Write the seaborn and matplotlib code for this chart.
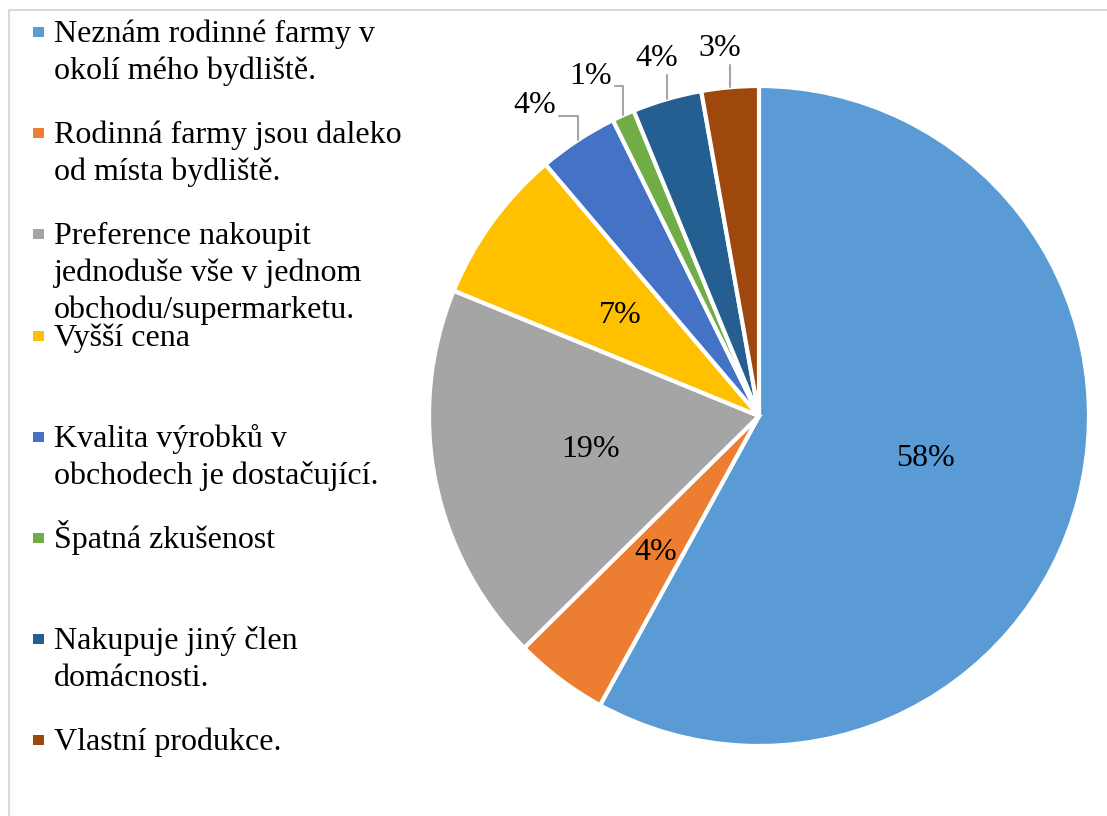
import numpy as np
import matplotlib
matplotlib.use("Agg")
import matplotlib.pyplot as plt
from matplotlib.patches import Rectangle
import seaborn as sns

categories = ["Neznám rodinné farmy v\nokolí mého bydliště.",
              "Rodinná farmy jsou daleko\nod místa bydliště.",
              "Preference nakoupit\njednoduše vše v jednom\nobchodu/supermarketu.",
              "Vyšší cena",
              "Kvalita výrobků v\nobchodech je dostačující.",
              "Špatná zkušenost",
              "Nakupuje jiný člen\ndomácnosti.",
              "Vlastní produkce."]
shares = [58.0, 4.6, 18.6, 7.6, 3.9, 1.1, 3.4, 2.8]
pct_labels = ["58%", "4%", "19%", "7%", "4%", "1%", "4%", "3%"]
colors = ["#5B9BD5", "#ED7D31", "#A5A5A5", "#FFC000",
          "#4472C4", "#70AD47", "#255E91", "#9E480E"]

sns.set_style("white")
plt.rcParams['font.family'] = ['Liberation Serif', 'DejaVu Serif']
plt.rcParams['text.color'] = 'black'

W, H = 1107, 816
fig = plt.figure(figsize=(W / 100, H / 100), dpi=100)

# light chart frame
fig.add_artist(Rectangle((9 / W, -0.1), 1.2, (H - 10) / H + 0.1,
                         transform=fig.transFigure, fill=False,
                         edgecolor="#d9d9d9", linewidth=1.5))

# pie: centre (759, 416) px, radius 330 px
cx, cy, R = 759, 416, 330
ax = fig.add_axes([(cx - R) / W, (H - cy - R) / H, 2 * R / W, 2 * R / H])
wedges, _ = ax.pie(shares, colors=colors, startangle=90, counterclock=False,
                   radius=1, wedgeprops=dict(edgecolor="white", linewidth=3))
ax.set_xlim(-1, 1)
ax.set_ylim(-1, 1)
ax.set_aspect("equal")
ax.axis("off")

fs = 23
# label placement for the small slices (outside, with leader lines)
outer_pos = {4: (-0.68, 0.94), 5: (-0.51, 1.03), 6: (-0.31, 1.082), 7: (-0.12, 1.115)}

for i, w in enumerate(wedges):
    mid = np.deg2rad((w.theta1 + w.theta2) / 2)
    if i in outer_pos:
        lx, ly = outer_pos[i]
        ex, ey = np.cos(mid), np.sin(mid)
        if abs(ex - lx) > 0.06:
            xs = [ex, ex, lx + 0.075]
            ys = [ey, ly - 0.03, ly - 0.03]
        else:
            xs = [ex, ex]
            ys = [ey, ly - 0.05]
        ax.plot(xs, ys, color="#a6a6a6", lw=1.5, clip_on=False)
        ax.text(lx, ly, pct_labels[i], ha="center", va="center", fontsize=fs)
    else:
        ax.text(0.52 * np.cos(mid), 0.52 * np.sin(mid), pct_labels[i],
                ha="center", va="center", fontsize=fs)

# legend on the left, one slot per entry, text top-aligned in the slot
for i, (lab, col) in enumerate(zip(categories, colors)):
    base = 42 + i * 101.2
    fig.add_artist(Rectangle((33 / W, 1 - (base - 5) / H), 11 / W, 10 / H,
                             transform=fig.transFigure, color=col, lw=0))
    for j, line in enumerate(lab.split("\n")):
        fig.text(54 / W, 1 - (base + j * 37) / H, line, fontsize=fs,
                 va="baseline", ha="left")

fig.savefig("out.png", dpi=100)
